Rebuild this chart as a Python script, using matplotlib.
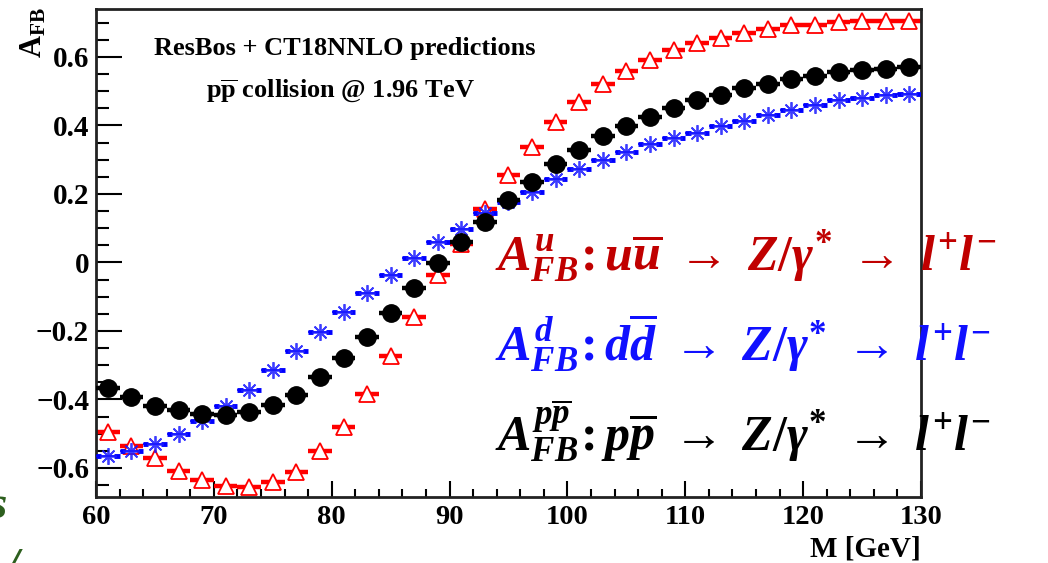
import matplotlib
matplotlib.use("Agg")
import matplotlib.pyplot as plt
import numpy as np
from matplotlib.ticker import MultipleLocator

# ---------------- data ----------------
mass = [61, 63, 65, 67, 69, 71, 73, 75, 77, 79, 81, 83, 85, 87, 89, 91, 93, 95,
        97, 99, 101, 103, 105, 107, 109, 111, 113, 115, 117, 119, 121, 123, 125, 127, 129]
bin_half_width = 1.0

afb_u = [-0.496, -0.537, -0.572, -0.610, -0.634, -0.654, -0.657, -0.642, -0.613, -0.552,
         -0.482, -0.385, -0.274, -0.158, -0.036, 0.053, 0.157, 0.256, 0.337, 0.410,
         0.468, 0.522, 0.558, 0.590, 0.619, 0.642, 0.656, 0.670, 0.681, 0.694,
         0.692, 0.701, 0.706, 0.706, 0.704]

afb_d = [-0.564, -0.552, -0.529, -0.502, -0.464, -0.418, -0.374, -0.315, -0.260, -0.204,
         -0.146, -0.090, -0.038, 0.012, 0.061, 0.099, 0.143, 0.175, 0.207, 0.244,
         0.274, 0.298, 0.321, 0.345, 0.364, 0.379, 0.397, 0.412, 0.431, 0.446,
         0.461, 0.475, 0.480, 0.488, 0.493]

afb_ppbar = [-0.368, -0.394, -0.418, -0.432, -0.444, -0.447, -0.438, -0.415, -0.386, -0.336,
             -0.280, -0.218, -0.148, -0.076, -0.003, 0.060, 0.117, 0.181, 0.235, 0.287,
             0.327, 0.368, 0.399, 0.424, 0.451, 0.473, 0.490, 0.508, 0.520, 0.537,
             0.543, 0.557, 0.561, 0.566, 0.572]

title_lines = ["ResBos + CT18NNLO predictions",
               r"$\mathrm{p\overline{p}}$ collision @ 1.96 TeV"]
formula_u = r"$A^{u}_{FB}\!:u\overline{u}\;\rightarrow\;Z/\gamma^{*}\;\rightarrow\;l^{+}l^{-}$"
formula_d = r"$A^{d}_{FB}\!:d\overline{d}\;\rightarrow\;Z/\gamma^{*}\;\rightarrow\;l^{+}l^{-}$"
formula_p = r"$A^{p\overline{p}}_{FB}\!:p\overline{p}\;\rightarrow\;Z/\gamma^{*}\;\rightarrow\;l^{+}l^{-}$"

# ---------------- style ----------------
plt.rcParams['font.family'] = ['Liberation Serif', 'DejaVu Serif']
plt.rcParams['font.weight'] = 'bold'
plt.rcParams['mathtext.fontset'] = 'custom'
plt.rcParams['mathtext.rm'] = 'Liberation Serif:bold'
plt.rcParams['mathtext.it'] = 'Liberation Serif:italic:bold'
plt.rcParams['mathtext.bf'] = 'Liberation Serif:bold'

W, H = 1048, 563
fig = plt.figure(figsize=(W / 100, H / 100), dpi=100)
ax = fig.add_axes([96 / W, 1 - 497 / H, (921 - 96) / W, (497 - 9) / H])

x = np.array(mass, dtype=float)
yu = np.array(afb_u)
yd = np.array(afb_d)
yp = np.array(afb_ppbar)

# u (red triangles)
ax.hlines(yu, x - bin_half_width, x + bin_half_width, color='#ff0000', lw=3.2, zorder=2)
ax.plot(x, yu, ls='none', marker='^', ms=12, mfc='white', mec='#ff0000', mew=1.3, zorder=3)

# d (blue stars)
ax.hlines(yd, x - bin_half_width, x + bin_half_width, color='#0000ff', lw=1.2, zorder=4)
ax.hlines(yd, x - bin_half_width, x - 0.55 * bin_half_width, color='#0000ff', lw=3.5, zorder=4)
ax.hlines(yd, x + 0.55 * bin_half_width, x + bin_half_width, color='#0000ff', lw=3.5, zorder=4)
ax.plot(x, yd, ls='none', marker=(8, 2, 0), ms=12, mec='#1a1aff', mew=1.3, alpha=0.85, zorder=5)

# ppbar (black circles)
ax.hlines(yp, x - bin_half_width, x + bin_half_width, color='black', lw=3.2, zorder=6)
ax.plot(x, yp, ls='none', marker='o', ms=12.5, mfc='black', mec='black', zorder=7)

ax.set_xlim(60, 130)
ax.set_ylim(-0.685, 0.74)
ax.xaxis.set_major_locator(MultipleLocator(10))
ax.xaxis.set_minor_locator(MultipleLocator(2))
ax.yaxis.set_major_locator(MultipleLocator(0.2))
ax.yaxis.set_minor_locator(MultipleLocator(0.05))

def fmt_y(v, pos):
    if abs(v) < 1e-9:
        return "0"
    return ("\u2212" if v < 0 else "") + f"{abs(v):.1f}"
ax.yaxis.set_major_formatter(plt.FuncFormatter(fmt_y))

ax.tick_params(which='both', direction='in', top=False, right=False, width=1.5,
               colors='black')
ax.tick_params(axis='y', which='major', length=19, pad=5, labelsize=21)
ax.tick_params(axis='y', which='minor', length=9.5)
ax.tick_params(axis='x', which='major', length=11.5, pad=6, labelsize=20.5)
ax.tick_params(axis='x', which='minor', length=6)
for lab in ax.get_xticklabels() + ax.get_yticklabels():
    lab.set_fontweight('bold')
for s in ax.spines.values():
    s.set_linewidth(2)
    s.set_color('#222222')

# axis titles
fig.text(921 / W, 1 - 549 / H, "M [GeV]", ha='right', va='center', fontsize=21, fontweight='bold')
fig.text(34 / W, 1 - 7 / H, r"$\mathrm{A_{FB}}$", rotation=90, ha='center', va='top', fontsize=22)

# header text
fig.text(345 / W, 1 - 48 / H, title_lines[0], ha='center', va='center', fontsize=19, fontweight='bold')
fig.text(340 / W, 1 - 91 / H, title_lines[1], ha='center', va='center', fontsize=19, fontweight='bold')

# big formulas
fig.text(495 / W, 1 - 271 / H, formula_u, ha='left', va='baseline', fontsize=36, color='#c00000')
fig.text(495 / W, 1 - 361 / H, formula_d, ha='left', va='baseline', fontsize=36, color='#1010ff')
fig.text(495 / W, 1 - 450 / H, formula_p, ha='left', va='baseline', fontsize=36, color='black')

# slide fragments on the left edge (cut off in the reference as well)
fig.text(-12 / W, 1 - 518 / H, "s", ha='left', va='baseline', fontsize=34,
         color='#2d5f1e', fontweight='bold', fontstyle='italic')
fig.text(6 / W, 1 - 580 / H, "/", ha='left', va='baseline', fontsize=34,
         color='#2d5f1e', fontweight='bold', fontstyle='italic')

fig.savefig("out.png", dpi=100)
